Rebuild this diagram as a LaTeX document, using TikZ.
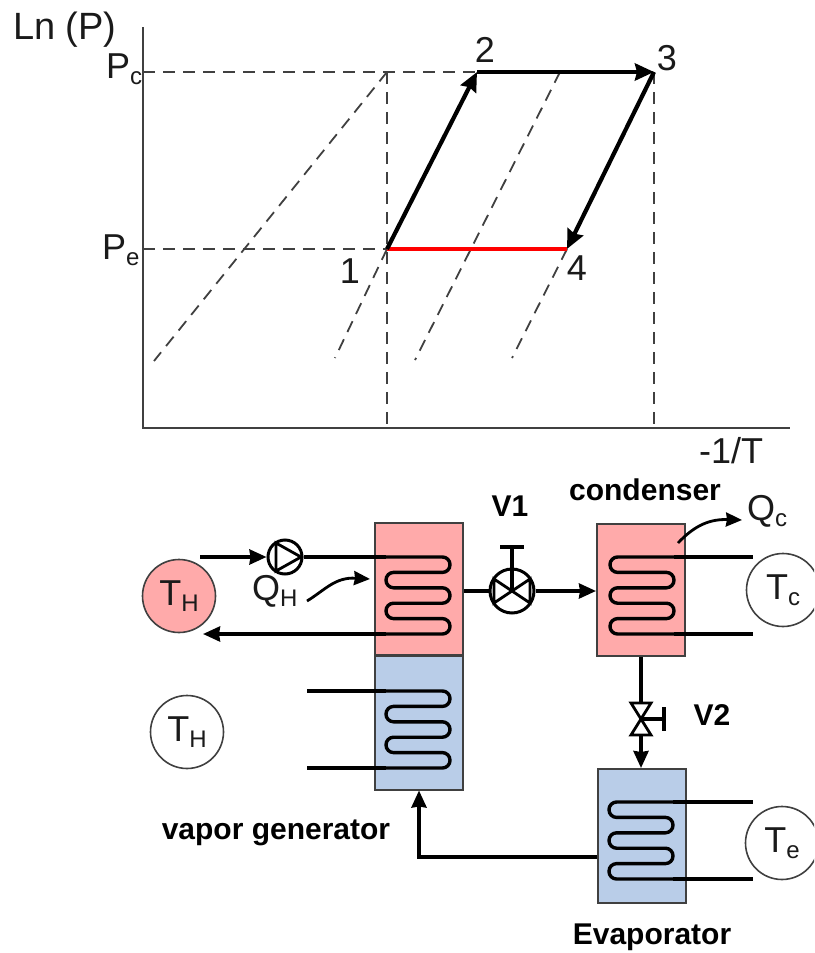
\documentclass[tikz,border=0pt]{standalone}
\usepackage{fontspec}
\setmainfont{Liberation Sans}
\usepackage{xcolor}
\usetikzlibrary{arrows.meta, calc}
\definecolor{hotfill}{RGB}{255,170,170}
\definecolor{coldfill}{RGB}{185,205,232}
\definecolor{edgegrey}{RGB}{64,64,64}
\definecolor{textgrey}{RGB}{26,26,26}
\newcommand{\subtxt}[2]{#1\raisebox{-6pt}{\fontsize{24}{24}\selectfont #2}}
\tikzset{
  coil/.pic={
    \draw[line width=3.4pt, rounded corners=7.6pt] (0,0) -- (64,0) -- (64,15.4) -- (0,15.4) -- (0,30.8)
      -- (64,30.8) -- (64,46.2) -- (0,46.2) -- (0,61.6) -- (64,61.6) -- (64,77) -- (0,77);
    \coordinate (-in) at (0,0);
    \coordinate (-out) at (0,77);
  },
  pumpmark/.pic={
    \draw[line width=2.8pt] (-9,-14) -- (16,0) -- (-9,14) -- cycle;
  },
  wheelvalve/.pic={
    \draw[line width=2.8pt] (-18,-12) -- (18,12) -- (18,-12) -- (-18,12) -- cycle;
  },
  gatevalve/.pic={
    \draw[line width=2.8pt] (-10,-16) -- (10,-16) -- (-10,16) -- (10,16) -- cycle;
  }
}

\begin{document}
\begin{tikzpicture}[
  x=1pt, y=-1pt,
  axisline/.style={draw=edgegrey, line width=2pt},
  guide/.style={draw=edgegrey, line width=1.8pt, dash pattern=on 12pt off 8pt},
  process/.style={line width=4.2pt, -{Stealth[length=19pt, width=17pt, inset=2pt]}},
  coldstroke/.style={draw=red, line width=4.4pt},
  pipe/.style={line width=3.4pt},
  flow/.style={line width=3.4pt, -{Stealth[length=17pt, width=15pt, inset=1pt]}},
  heat/.style={line width=2.8pt, -{Stealth[length=16pt, width=14pt, inset=1pt]}},
  hotbox/.style={draw=edgegrey, fill=hotfill, line width=2pt, inner sep=0pt, minimum width=88pt, minimum height=132pt},
  coldbox/.style={draw=edgegrey, fill=coldfill, line width=2pt, inner sep=0pt, minimum width=88pt, minimum height=134pt},
  bath/.style={draw=edgegrey, circle, line width=1.6pt, inner sep=0pt, minimum size=73pt, text=textgrey, font=\fontsize{36}{36}\selectfont},
  ring/.style={draw, circle, line width=3pt, inner sep=0pt},
  plain/.style={text=textgrey, inner sep=0pt, font=\fontsize{36}{36}\selectfont},
  tag/.style={text=black, inner sep=0pt, font=\fontsize{30}{30}\selectfont\bfseries}
]
  \path[use as bounding box, clip] (0,0) rectangle (814,953);
  \coordinate (origin) at (143,428);
  \coordinate (top) at (143,27);
  \coordinate (right) at (790,428);
  \coordinate (pc) at (143,72);
  \coordinate (pe) at (143,249);
  \coordinate (p1) at (387,249);
  \coordinate (p2) at (477,72);
  \coordinate (p3) at (654,72);
  \coordinate (p4) at (567,249);
  \coordinate (foot1) at (387,428);
  \coordinate (foot3) at (654,428);
  \coordinate (kink) at (387,72);
  \coordinate (mid) at (560,72);
  \draw[axisline] (top) -- (origin) -- (right);
  \draw[guide] (pc) -- (p2);
  \draw[guide] (pe) -- (p1);
  \draw[guide] (kink) -- (foot1);
  \draw[guide] (p3) -- (foot3);
  \draw[guide] (kink) -- (154,361);
  \draw[guide] (p1) -- (335,358);
  \draw[guide] (mid) -- (415,360);
  \draw[guide] (p4) -- (512,358);
  \draw[coldstroke] (p1) -- (p4);
  \draw[process] (p1) -- (p2);
  \draw[process] (p2) -- (p3);
  \draw[process] (p3) -- (p4);
  \node[plain, anchor=base west, font=\fontsize{38}{38}\selectfont] (lnp) at (13,39) {Ln (P)};
  \node[plain, anchor=base west] (pclabel) at (106,78) {\subtxt{P}{c}};
  \node[plain, anchor=base west] (pelabel) at (102,259) {\subtxt{P}{e}};
  \node[plain, anchor=base] (one) at (350,283) {1};
  \node[plain, anchor=base] (two) at (485,62) {2};
  \node[plain, anchor=base] (three) at (667,70) {3};
  \node[plain, anchor=base] (four) at (577,280) {4};
  \node[plain, anchor=base west] (invt) at (699,463) {-1/T};

  \node[hotbox] (genhot) at (419,589) {};
  \node[coldbox] (gencold) at (419,722.5) {};
  \node[hotbox] (condenser) at (641,589.5) {};
  \node[coldbox] (evaporator) at (641.5,836) {};
  \pic (coilhot) at (386,557) {coil};
  \pic (coilcold) at (386,691) {coil};
  \pic[xscale=-1] (coilcon) at (674,557) {coil};
  \pic[xscale=-1] (coilevap) at (673,802) {coil};

  \node[bath, fill=hotfill] (hotbath) at (179,596) {\subtxt{T}{H}};
  \node[bath] (genbath) at (187,732) {\subtxt{T}{H}};
  \node[bath] (conbath) at (783,590) {\subtxt{T}{c}};
  \node[bath] (evapbath) at (782,843) {\subtxt{T}{e}};

  \node[ring, minimum size=34pt] (pump) at (285,557) {};
  \pic at (pump) {pumpmark};
  \coordinate (feed) at (200,557);
  \coordinate (bathin) at (203,634);
  \draw[flow] (feed) -- (pump.west);
  \draw[pipe] (pump.east) -- (coilhot-in);
  \draw[flow] (coilhot-out) -- (bathin);

  \coordinate (genleadtop) at (307,691);
  \coordinate (genleadlow) at (307,768);
  \draw[pipe] (genleadtop) -- (coilcold-in);
  \draw[pipe] (genleadlow) -- (coilcold-out);
  \coordinate (conleadtop) at (753,557);
  \coordinate (conleadlow) at (753,634);
  \draw[pipe] (coilcon-in) -- (conleadtop);
  \draw[pipe] (coilcon-out) -- (conleadlow);
  \coordinate (evapleadtop) at (753,802);
  \coordinate (evapleadlow) at (753,879);
  \draw[pipe] (coilevap-in) -- (evapleadtop);
  \draw[pipe] (coilevap-out) -- (evapleadlow);

  \node[ring, minimum size=44pt] (valveone) at (512,591) {};
  \pic at (valveone) {wheelvalve};
  \coordinate (stemtop) at (512,547);
  \coordinate (barleft) at (500,547);
  \coordinate (barright) at (524,547);
  \draw[pipe] (valveone.center) -- (stemtop);
  \draw[pipe] (barleft) -- (barright);
  \draw[pipe] (genhot.east |- valveone) -- (valveone.west);
  \draw[flow] (valveone.east) -- (condenser.west |- valveone);

  \node[inner sep=0pt, minimum width=20pt, minimum height=32pt] (valvetwo) at (641,719) {};
  \pic at (valvetwo) {gatevalve};
  \coordinate (handle) at (664,719);
  \coordinate (handletop) at (664,707);
  \coordinate (handlelow) at (664,731);
  \draw[pipe] (valvetwo.center) -- (handle);
  \draw[pipe] (handletop) -- (handlelow);
  \draw[pipe] (condenser.south -| valvetwo) -- (valvetwo.north);
  \draw[flow] (valvetwo.south) -- (evaporator.north -| valvetwo);

  \coordinate (evapout) at (597,857);
  \coordinate (corner) at (419,857);
  \draw[flow] (evapout) -- (corner) -- (gencold.south);

  \coordinate (qhstart) at (307,601);
  \coordinate (qhend) at (370,579);
  \coordinate (qcstart) at (678,543);
  \coordinate (qcend) at (742,520);
  \draw[heat] (qhstart) .. controls (325,590) and (335,577) .. (qhend);
  \draw[heat] (qcstart) .. controls (695,525) and (710,519) .. (qcend);
  \node[plain, anchor=base west] (qh) at (252,600) {\subtxt{Q}{H}};
  \node[plain, anchor=base west] (qc) at (747,520) {\subtxt{Q}{c}};

  \node[tag] (vone) at (510,506) {V1};
  \node[tag] (vtwo) at (712,715) {V2};
  \node[tag] (conlabel) at (645,490) {condenser};
  \node[tag] (genlabel) at (276,833) {vapor generator};
  \node[tag] (evaplabel) at (652,937) {Evaporator};
\end{tikzpicture}
\end{document}
